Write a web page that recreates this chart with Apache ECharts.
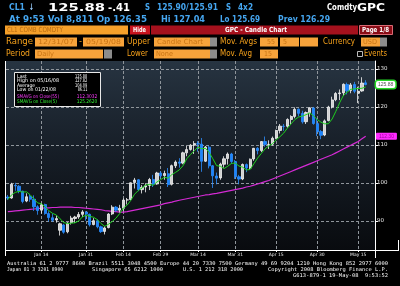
<!DOCTYPE html>
<html><head><meta charset="utf-8">
<script src="https://cdn.jsdelivr.net/npm/echarts@6/dist/echarts.min.js"></script>
<style>html,body{margin:0;padding:0;background:#000;}#c{width:400px;height:286px;}</style>
</head><body><div id="c"></div>
<script>
// ---------------- data ----------------
const dates = ['Dec 31',
 'Jan 2','Jan 3','Jan 4','Jan 7','Jan 8','Jan 9','Jan 10','Jan 11','Jan 14','Jan 15','Jan 16','Jan 17','Jan 18','Jan 22','Jan 23','Jan 24','Jan 25','Jan 28','Jan 29','Jan 30','Jan 31',
 'Feb 1','Feb 4','Feb 5','Feb 6','Feb 7','Feb 8','Feb 11','Feb 12','Feb 13','Feb 14','Feb 15','Feb 19','Feb 20','Feb 21','Feb 22','Feb 25','Feb 26','Feb 27','Feb 28','Feb 29',
 'Mar 3','Mar 4','Mar 5','Mar 6','Mar 7','Mar 10','Mar 11','Mar 12','Mar 13','Mar 14','Mar 17','Mar 18','Mar 19','Mar 20','Mar 24','Mar 25','Mar 26','Mar 27','Mar 28','Mar 31',
 'Apr 1','Apr 2','Apr 3','Apr 4','Apr 7','Apr 8','Apr 9','Apr 10','Apr 11','Apr 14','Apr 15','Apr 16','Apr 17','Apr 18','Apr 21','Apr 22','Apr 23','Apr 24','Apr 25','Apr 28','Apr 29','Apr 30',
 'May 1','May 2','May 5','May 6','May 7','May 8','May 9','May 12','May 13','May 14','May 15','May 16','May 19'];
const opens = [96.28,
 96.00,99.30,99.10,97.80,95.20,96.40,95.70,93.70,92.80,94.30,91.90,90.80,90.20,87.50,88.90,87.10,89.50,90.60,91.00,91.70,92.30,
 91.70,89.00,90.00,88.40,87.20,88.20,91.80,93.60,92.80,93.30,95.50,95.60,100.10,100.80,98.20,98.90,99.30,100.90,99.70,102.60,
 101.90,102.40,99.60,104.50,105.50,105.20,107.90,108.80,109.90,110.30,110.20,105.70,109.40,104.50,101.80,101.30,104.90,106.40,107.60,105.60,
 101.60,101.00,104.80,103.90,106.30,109.10,108.50,110.90,110.10,110.20,111.80,113.80,114.90,114.90,116.70,117.50,119.40,118.30,116.10,118.50,119.70,115.60,
 113.50,112.60,116.40,120.00,121.90,123.50,123.70,125.90,124.30,125.90,123.60,124.20,126.35];
const highs = [96.80,
 100.00,100.00,99.40,97.90,97.25,97.00,96.70,94.10,94.70,94.50,92.50,91.90,91.40,89.50,89.20,89.60,91.30,91.30,92.30,92.80,92.50,
 91.90,90.70,90.40,88.70,88.50,92.00,94.10,93.90,94.20,95.90,96.00,100.10,101.30,101.00,99.40,99.90,101.30,102.10,102.90,103.05,
 103.20,103.90,104.80,105.90,106.50,108.20,109.70,110.20,111.00,111.00,111.80,109.70,109.80,104.70,102.70,105.30,107.00,108.00,107.90,106.00,
 102.10,105.10,105.10,106.40,109.20,109.40,111.00,112.20,111.20,112.20,114.00,115.50,115.50,117.00,117.80,119.90,119.60,119.00,118.80,119.90,120.00,117.00,
 113.90,116.70,120.30,122.70,123.90,124.60,126.20,126.40,126.30,126.60,125.30,127.82,127.04];
const lows = [95.46,
 95.80,97.90,97.25,94.60,94.90,95.00,92.60,91.60,91.90,91.60,89.80,89.70,89.50,86.11,86.60,86.70,89.00,89.40,90.50,91.00,90.00,
 88.50,88.80,88.00,86.80,86.40,88.00,91.50,92.30,92.20,92.50,94.30,95.40,98.50,97.80,97.20,97.50,98.10,98.90,99.50,101.20,
 100.80,98.90,99.30,103.90,104.00,104.90,107.00,108.50,107.60,108.20,102.90,105.50,103.80,98.65,99.60,100.80,104.00,104.80,105.00,101.00,
 99.60,100.70,102.80,103.40,105.80,107.50,108.10,109.50,108.90,109.80,111.50,113.00,113.70,114.50,115.50,117.00,117.50,115.60,115.50,117.40,115.30,112.30,
 111.50,112.30,116.20,119.60,121.50,121.80,122.90,123.30,123.60,123.60,121.00,124.00,125.69];
const closes = [95.98,
 99.62,99.18,97.91,95.09,96.33,95.67,93.67,92.69,94.20,91.90,90.84,90.13,90.57,89.21,86.99,89.41,90.71,90.99,91.64,92.33,91.75,
 88.96,90.02,88.41,87.14,88.11,91.77,93.59,92.78,93.27,95.46,95.50,100.01,100.74,98.23,98.81,99.23,100.88,99.64,102.59,101.84,
 102.45,99.52,104.52,105.47,105.15,107.90,108.75,109.92,110.33,110.21,105.68,109.42,104.48,101.84,101.22,104.90,106.33,107.58,105.62,101.58,
 100.98,104.83,103.92,106.23,109.09,108.50,110.87,110.11,110.14,111.76,113.79,114.93,114.86,116.69,117.48,119.37,118.30,116.06,118.52,119.75,115.63,113.46,
 112.52,116.32,119.97,121.84,123.53,123.69,125.96,124.23,125.80,124.12,124.12,126.29,125.88];
const sma55 = [92.4,
 92.5,92.6,92.7,92.8,92.9,93.0,93.1,93.2,93.3,93.4,93.4,93.5,93.5,93.6,93.6,93.6,93.6,93.5,93.5,93.4,93.3,
 93.2,93.1,93.0,92.9,92.7,92.6,92.5,92.4,92.3,92.3,92.4,92.6,92.8,93.0,93.2,93.4,93.6,93.8,94.0,94.2,
 94.5,94.7,94.9,95.2,95.4,95.6,95.8,96.0,96.2,96.4,96.6,96.8,96.9,97.1,97.2,97.4,97.6,97.8,98.0,98.2,
 98.4,98.6,98.9,99.1,99.4,99.7,100.0,100.3,100.6,101.0,101.4,101.8,102.2,102.6,103.0,103.4,103.8,104.2,104.6,105.0,105.4,105.8,
 106.2,106.6,107.0,107.4,107.9,108.4,108.9,109.4,109.9,110.4,110.9,111.6,112.3];
const sma5 = [95.58,
 96.84,97.48,97.74,97.56,97.63,96.84,95.73,94.69,94.51,93.63,92.66,91.95,91.53,90.53,89.55,89.26,89.38,89.46,89.95,91.02,91.48,
 91.13,90.94,90.29,89.26,88.53,89.09,89.80,90.68,91.90,93.37,94.12,95.40,97.00,97.99,98.66,99.40,99.58,99.36,100.23,100.84,
 101.48,101.21,102.18,102.76,103.42,104.51,106.36,107.44,108.41,109.42,108.98,109.11,108.02,106.33,104.53,104.37,103.75,104.37,105.13,105.20,
 104.42,104.12,103.39,103.51,105.01,106.51,107.72,108.96,109.74,110.28,111.33,112.15,113.10,114.41,115.55,116.67,117.34,117.58,117.95,118.40,117.65,116.68,
 115.98,115.54,115.58,116.82,118.84,121.07,123.00,123.85,124.64,124.76,124.85,124.91,125.26];
const tickLabels = ['Jan 14','Jan 31','Feb 14','Feb 29','Mar 14','Mar 31','Apr 15','Apr 30','May 15'];
const lastPrice = 125.88;
const lastSma55 = 112.30;
const statNames = ['Last','High on 05/16/08','Average','Low on 01/22/08','SMAVG on Close(55)','SMAVG on Close(5)'];
const statValues = ['125.88','127.82','104.09','86.11','112.3032','125.2620'];

// ---------------- build ----------------
const cats = dates.concat(['', '']);
const candles = opens.map((o, i) => [o, closes[i], lows[i], highs[i]]);
const tickFn = (i, v) => tickLabels.indexOf(v) >= 0;

const BLUE = '#45a6f0', AMBER = '#f7a21b', FIELD = '#f7a33b', FIELDTXT = '#c97414';
const MAG = '#ff3cff', GRN = '#35f035';
const mctx = document.createElement('canvas').getContext('2d');
function txt(s, x, y, w, size, color, weight, family) {
  family = family || 'DejaVu Sans';
  const font = (weight || 'normal') + ' ' + size + 'px "' + family + '"';
  mctx.font = font;
  const nat = mctx.measureText(s).width || 1;
  return {type: 'text', x: x, y: y, scaleX: w ? w / nat : 1, silent: true, z: 100,
    style: {text: s, fill: color, font: font, textVerticalAlign: 'middle', verticalAlign: 'middle', textAlign: 'left', align: 'left'}};
}
function box(x, y, w, h, fill, stroke, lw) {
  return {type: 'rect', silent: true, z: 90, shape: {x: x, y: y, width: w, height: h},
    style: {fill: fill, stroke: stroke || null, lineWidth: lw || 0}};
}
function line(x1, y1, x2, y2, color) {
  return {type: 'line', silent: true, z: 95, shape: {x1: x1, y1: y1, x2: x2, y2: y2}, style: {stroke: color, lineWidth: 1}};
}

const g = [];
// row 1
g.push(txt('CL1', 9, 8, 16, 9, BLUE, 'bold'));
g.push(txt('\u2193', 29, 8, 5, 9, '#9ccfff', 'bold'));
g.push(txt('125.88', 48, 8, 57, 11, '#ffffff', 'bold'));
g.push(txt('-.41', 108, 8, 22, 10, '#ffffff', 'bold'));
g.push(txt('S', 145, 8, 5, 9, BLUE, 'bold'));
g.push(txt('125.90/125.91', 157, 8, 61, 9, BLUE, 'bold'));
g.push(txt('S', 226, 8, 5, 9, BLUE, 'bold'));
g.push(txt('4x2', 238, 8, 15, 9, BLUE, 'bold'));
g.push(txt('Comdty', 327, 8, 30, 8.5, '#ffffff', 'bold'));
g.push(txt('GPC', 357, 8, 28, 11, '#ffffff', 'bold'));
// row 2
g.push(txt('At 9:53 Vol 8,811 Op 126.35', 9, 19.5, 138, 9, BLUE, 'bold'));
g.push(txt('Hi 127.04', 161, 19.5, 44, 9, BLUE, 'bold'));
g.push(txt('Lo 125.69', 220, 19.5, 40, 9, BLUE, 'bold'));
g.push(txt('Prev 126.29', 278, 19.5, 52, 9, BLUE, 'bold'));
// row 3
g.push(box(5, 25.5, 123, 9, '#f5a02a'));
g.push(txt('CL1 COMB COMDTY', 7, 30.2, 56, 7, '#b86a10'));
g.push(box(130, 25.5, 20, 9, '#c8141e'));
g.push(txt('Hide', 133, 30.2, 13, 7, '#ffffff', 'bold'));
g.push(box(151, 25.5, 207, 9, '#a5111d'));
g.push(txt('GPC - Candle Chart', 225, 30.2, 62, 7, '#ffffff', 'bold'));
g.push(box(359.5, 25.5, 33, 9, '#8a0c16', '#d86a74', 1));
g.push(txt('Page 1/8', 362, 30.2, 27, 7, '#ffffff', 'bold'));
// row 4
g.push(txt('Range', 6, 42, 27, 8, AMBER));
g.push(box(35, 37.5, 42, 9, FIELD)); g.push(txt('12/31/07', 38, 42, 36, 7, FIELDTXT));
g.push(txt('-', 79, 42, 3, 8, AMBER));
g.push(box(83, 37.5, 41, 9, FIELD)); g.push(txt('05/19/08', 86, 42, 35, 7, FIELDTXT));
g.push(txt('Upper', 127, 42, 23, 8, AMBER));
g.push(box(154, 37.5, 56, 9, FIELD)); g.push(txt('Candle Chart', 157, 42, 46, 7, FIELDTXT));
g.push(box(210, 37.5, 7, 9, '#8c8c8c'));
g.push(txt('Mov. Avgs', 220, 42, 37, 8, AMBER));
g.push(box(260, 37.5, 18, 9, FIELD)); g.push(txt('55', 267, 42, 8, 7, FIELDTXT));
g.push(box(280, 37.5, 19, 9, FIELD)); g.push(txt('5', 283, 42, 4, 7, FIELDTXT));
g.push(box(300, 37.5, 18, 9, FIELD));
g.push(txt('Currency', 323, 42, 32, 8, AMBER));
g.push(box(361, 37.5, 19, 9, FIELD)); g.push(txt('USD', 363, 42, 14, 7, FIELDTXT));
g.push(box(380, 37.5, 7, 9, '#8c8c8c'));
// row 5
g.push(txt('Period', 6, 54, 24, 8, AMBER));
g.push(box(35, 49.5, 68, 9, FIELD)); g.push(txt('Daily', 37, 54, 17, 7, FIELDTXT));
g.push(box(104, 49.5, 8, 9, '#8c8c8c'));
g.push(txt('Lower', 127, 54, 21, 8, AMBER));
g.push(box(154, 49.5, 56, 9, FIELD)); g.push(txt('None', 156, 54, 17, 7, FIELDTXT));
g.push(box(210, 49.5, 7, 9, '#8c8c8c'));
g.push(txt('Mov. Avg', 220, 54, 32, 8, AMBER));
g.push(box(260, 49.5, 18, 9, FIELD)); g.push(txt('15', 264, 54, 8, 7, FIELDTXT));
g.push(box(357.5, 51.5, 5, 5, '#000000', '#bbbbbb', 1));
g.push(txt('Events', 364, 54, 23, 8, AMBER));
// stats box inside chart
g.push(box(14.5, 72.5, 86, 34, '#000000', '#e8e8e8', 1));
const statY = [76.7, 81, 85.3, 89.7, 96.3, 101.8];
const statW = [10, 42, 18, 39, 42, 40];
const statVx = [75, 75, 75, 77.7, 76.7, 76.7];
const statVw = [12.3, 12.3, 12.3, 9.6, 20.6, 20.6];
const statC = ['#ffffff', '#ffffff', '#ffffff', '#ffffff', MAG, GRN];
statNames.forEach((n, i) => {
  g.push(txt(n, 17, statY[i], statW[i], 5, statC[i]));
  g.push(txt(statValues[i], statVx[i], statY[i], statVw[i], 5, statC[i]));
});
// frame lines
g.push(line(5.5, 61, 5.5, 256, '#ffffff'));
g.push(line(375.5, 250, 375.5, 258, '#ffffff'));
g.push(line(375, 250.5, 399, 250.5, '#ffffff'));
g.push(line(398.5, 240, 398.5, 250.5, '#ffffff'));
// footer
const MONO = 'DejaVu Sans Mono';
g.push(txt('Australia 61 2 9777 8600 Brazil 5511 3048 4500 Europe 44 20 7330 7500 Germany 49 69 9204 1210 Hong Kong 852 2977 6000', 7, 264, 381, 5, '#ffffff', 'normal', MONO));
g.push(txt('Japan 81 3 3201 8900', 7, 270, 56, 5, '#ffffff', 'normal', MONO));
g.push(txt('Singapore 65 6212 1000', 92, 270, 71, 5, '#ffffff', 'normal', MONO));
g.push(txt('U.S. 1 212 318 2000', 183, 270, 60, 5, '#ffffff', 'normal', MONO));
g.push(txt('Copyright 2008 Bloomberg Finance L.P.', 268, 270, 120, 5, '#ffffff', 'normal', MONO));
g.push(txt('G613-879-1 19-May-08  9:53:52', 293, 275.5, 95, 5, '#ffffff', 'normal', MONO));

const chart = echarts.init(document.getElementById('c'), null, {renderer: 'canvas'});
const bg = new echarts.graphic.LinearGradient(0, 0, 0, 1, [
  {offset: 0, color: '#273441'}, {offset: 0.25, color: '#1e2833'}, {offset: 0.5, color: '#161d26'},
  {offset: 0.75, color: '#0f141a'}, {offset: 1, color: '#090b0f'}]);
const gridLine = {color: '#8f959b', width: 1, type: [3, 2]};
chart.setOption({
  animation: false,
  backgroundColor: '#000000',
  grid: {left: 6, right: 25, top: 61, bottom: 36, show: true, borderWidth: 0, backgroundColor: bg},
  xAxis: {
    type: 'category', data: cats, boundaryGap: true,
    axisLine: {show: true, lineStyle: {color: '#ffffff', width: 1}},
    axisTick: {show: true, alignWithLabel: true, interval: tickFn, length: 2, lineStyle: {color: '#ffffff'}},
    axisLabel: {interval: tickFn, fontSize: 4.5, color: '#e6e6e6', margin: 2, fontFamily: 'DejaVu Sans'},
    splitLine: {show: true, interval: tickFn, alignWithLabel: true, lineStyle: gridLine}
  },
  yAxis: {
    type: 'value', position: 'right', min: 82.3, max: 132.1, splitNumber: 5,
    axisLine: {show: true, lineStyle: {color: '#ffffff', width: 1}},
    axisTick: {show: true, length: 3, lineStyle: {color: '#ffffff'}},
    axisLabel: {showMinLabel: false, showMaxLabel: false, fontSize: 5.5, color: '#e6e6e6', margin: 2, fontFamily: 'DejaVu Sans'},
    splitLine: {show: true, showMinLine: false, showMaxLine: false, lineStyle: gridLine}
  },
  series: [
    {type: 'line', data: sma55, showSymbol: false, z: 3, lineStyle: {color: '#d42ad4', width: 1.2},
      markLine: {silent: true, symbol: 'none', data: [{yAxis: lastSma55}], lineStyle: {color: 'transparent', width: 0},
        label: {show: true, position: 'end', distance: 1, formatter: lastSma55.toFixed(2), backgroundColor: '#ff2bff',
          color: '#a000a0', fontSize: 5, padding: [1, 3, 1, 3], borderRadius: 1}}},
    {type: 'candlestick', data: candles, barWidth: 2.6, z: 4,
      itemStyle: {color: '#d0d0d0', color0: '#1a84ff', borderColor: '#f4f4f4', borderColor0: '#2d8fff', borderWidth: 0.8},
      markLine: {silent: true, symbol: 'none', data: [{yAxis: lastPrice}], lineStyle: {color: 'transparent', width: 0},
        label: {show: true, position: 'end', distance: 1, formatter: lastPrice.toFixed(2), backgroundColor: '#ffffff',
          borderColor: '#27d827', borderWidth: 1.5, borderRadius: 2, color: '#555555', fontSize: 5, padding: [1, 2, 1, 2]}}},
    {type: 'line', data: sma5, showSymbol: false, z: 5, lineStyle: {color: '#1fd01f', width: 1}}
  ],
  graphic: g
});
</script></body></html>
